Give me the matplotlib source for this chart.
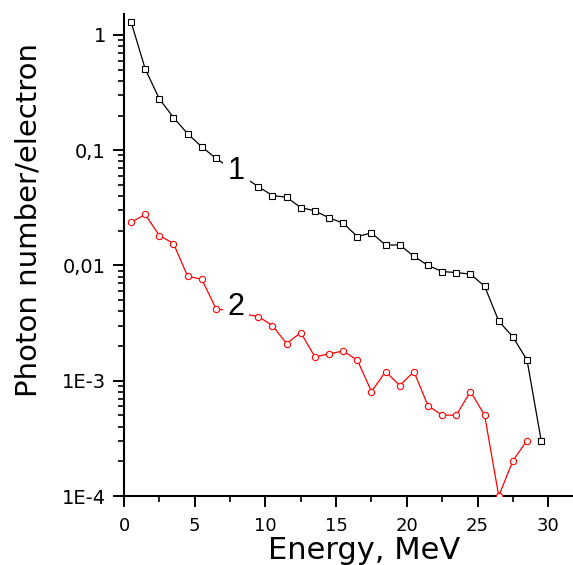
import matplotlib
matplotlib.use("Agg")
import matplotlib.pyplot as plt
from matplotlib.ticker import FixedLocator, NullFormatter, LogLocator

# Data (Energy in MeV); points at 7.5 and 8.5 are hidden behind the curve labels
energy1 = [0.5, 1.5, 2.5, 3.5, 4.5, 5.5, 6.5, 9.5, 10.5, 11.5, 12.5, 13.5, 14.5,
           15.5, 16.5, 17.5, 18.5, 19.5, 20.5, 21.5, 22.5, 23.5, 24.5, 25.5,
           26.5, 27.5, 28.5, 29.5]
photons1 = [1.30, 0.507, 0.279, 0.192, 0.139, 0.107, 0.085, 0.0483, 0.0404,
            0.0391, 0.0318, 0.0298, 0.0259, 0.0233, 0.0178, 0.0192, 0.0150,
            0.0151, 0.0120, 0.0100, 0.00886, 0.00868, 0.00841, 0.00661,
            0.00329, 0.0024, 0.00151, 0.000303]

energy2 = [0.5, 1.5, 2.5, 3.5, 4.5, 5.5, 6.5, 9.5, 10.5, 11.5, 12.5, 13.5, 14.5,
           15.5, 16.5, 17.5, 18.5, 19.5, 20.5, 21.5, 22.5, 23.5, 24.5, 25.5,
           26.5, 27.5, 28.5]
photons2 = [0.0237, 0.0277, 0.0182, 0.0155, 0.00807, 0.0076, 0.00423, 0.0036,
            0.00301, 0.0021, 0.00262, 0.00161, 0.00171, 0.00181, 0.00151,
            0.000806, 0.0012, 0.000908, 0.0012, 0.000606, 0.000503, 0.000503,
            0.000806, 0.000503, 0.0001, 0.000202, 0.000303]

x_ticks = [0, 5, 10, 15, 20, 25, 30]
y_ticks = [1e-4, 1e-3, 1e-2, 1e-1, 1]
y_tick_labels = ["1E-4", "1E-3", "0,01", "0,1", "1"]

plt.rcParams['font.family'] = ['DejaVu Sans']

fig = plt.figure(figsize=(5.73, 5.65), dpi=100)
ax = fig.add_axes([124 / 573, 69 / 565, 449 / 573, 482 / 565])

ax.plot(energy1, photons1, color='black', lw=0.9, marker='s', ms=4.2,
        mfc='white', mec='black', mew=0.8, zorder=3)
ax.plot(energy2, photons2, color='red', lw=0.9, marker='o', ms=4.5,
        mfc='white', mec='red', mew=0.8, zorder=3)

ax.set_yscale('log')
ax.set_xlim(0, 31.75)
ax.set_ylim(1e-4, 1.52)

ax.text(7.96, 0.066, "1", fontsize=22, family=['Liberation Sans', 'DejaVu Sans'],
        ha='center', va='center', zorder=4,
        bbox=dict(facecolor='white', edgecolor='none', pad=3.5))
ax.text(7.92, 0.00438, "2", fontsize=22, family=['Liberation Sans', 'DejaVu Sans'],
        ha='center', va='center', zorder=4,
        bbox=dict(facecolor='white', edgecolor='none', pad=3.5))

ax.xaxis.set_major_locator(FixedLocator(x_ticks))
ax.xaxis.set_minor_locator(FixedLocator([2.5, 7.5, 12.5, 17.5, 22.5, 27.5]))
ax.set_xticklabels([str(t) for t in x_ticks])
ax.yaxis.set_major_locator(FixedLocator(y_ticks))
ax.set_yticklabels(y_tick_labels)
ax.yaxis.set_minor_locator(LogLocator(base=10, subs=range(2, 10), numticks=20))
ax.yaxis.set_minor_formatter(NullFormatter())

for side in ['top', 'right']:
    ax.spines[side].set_visible(False)
for side in ['left', 'bottom']:
    ax.spines[side].set_linewidth(1.5)

ax.tick_params(axis='both', which='major', direction='out', length=8, width=1.4)
ax.tick_params(axis='both', which='minor', direction='out', length=4.5, width=1.2)
ax.tick_params(axis='x', which='major', labelsize=13, pad=7)
ax.tick_params(axis='y', which='major', labelsize=14, pad=5)

ax.set_xlabel("Energy, MeV", fontsize=22)
ax.xaxis.set_label_coords((364 - 124) / 449, -(559 - 496) / 482)
ax.xaxis.label.set_va('baseline')
ax.set_ylabel("Photon number/electron", fontsize=21)
ax.yaxis.set_label_coords(-(124 - 15) / 449, (496 - 220) / 482)
ax.yaxis.label.set_va('top')

fig.savefig("out.png", dpi=100)
